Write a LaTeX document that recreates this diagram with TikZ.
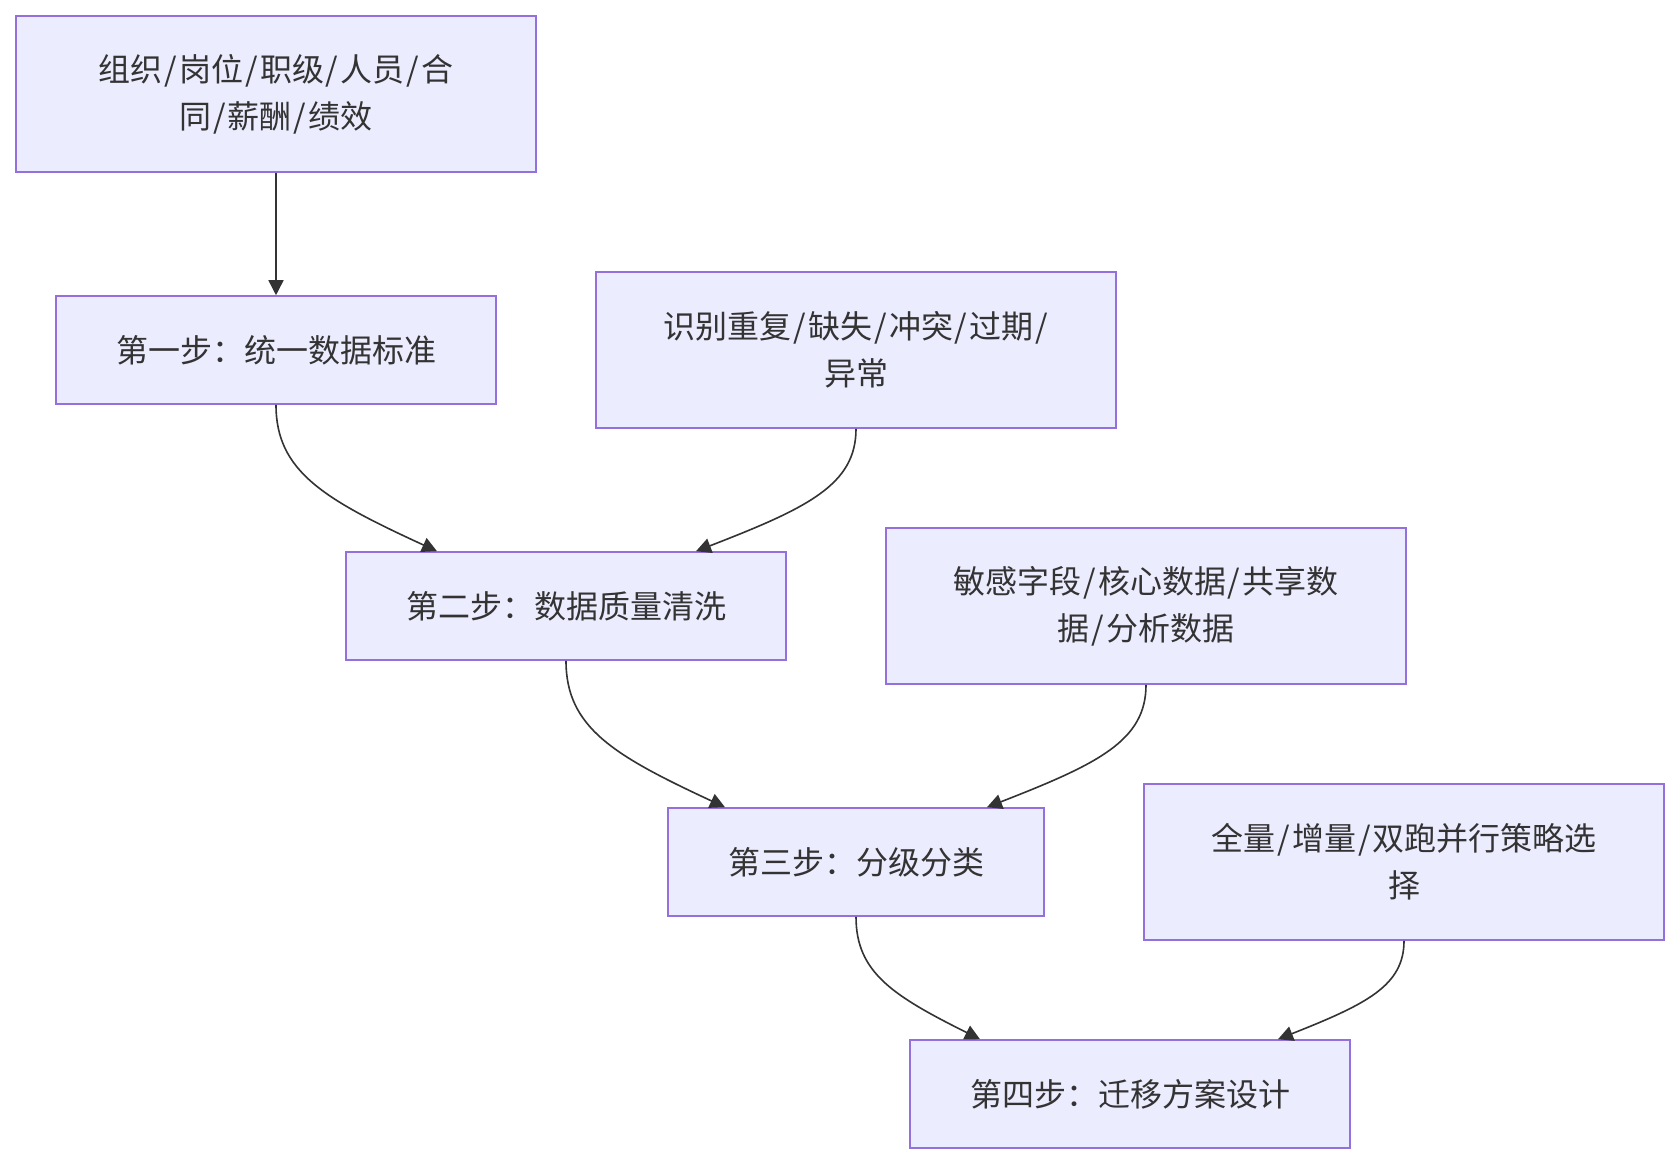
\documentclass[tikz,border=0pt]{standalone}
\usepackage{fontspec}
\newfontfamily\cjk{Noto Sans CJK SC}
\usetikzlibrary{arrows.meta,calc}
\definecolor{boxfill}{HTML}{ECECFF}
\definecolor{boxline}{HTML}{9370DB}
\definecolor{ink}{HTML}{333333}
\newcommand{\slsep}{\hspace{1pt}/\hspace{1pt}}
\begin{document}
\begin{tikzpicture}[x=0.5pt,y=-0.5pt,
  box/.style={draw=boxline, fill=boxfill, line width=0.8pt, text=ink,
    font=\cjk\fontsize{16pt}{23.5pt}\selectfont, align=center, inner sep=0pt},
  widebox/.style={box, minimum width=260pt, minimum height=78pt},
  stepbox/.style={box, minimum width=220pt, minimum height=54pt},
  edge/.style={draw=ink, line width=0.8pt, -{Triangle[length=7.5pt,width=7.5pt]}}]
\fill[white] (0,0) rectangle (1680,1164);
\useasboundingbox (0,0) rectangle (1680,1164);

\node[widebox] (A) at (276,94) {组织\slsep 岗位\slsep 职级\slsep 人员\slsep 合\\同\slsep 薪酬\slsep 绩效};
\node[stepbox] (B) at (276,350) {第一步：统一数据标准};
\node[widebox] (C) at (856,350) {识别重复\slsep 缺失\slsep 冲突\slsep 过期\slsep\\异常};
\node[stepbox] (D) at (566,606) {第二步：数据质量清洗};
\node[widebox] (E) at (1146,606) {敏感字段\slsep 核心数据\slsep 共享数\\据\slsep 分析数据};
\node[box, minimum width=188pt, minimum height=54pt] (F) at (856,862) {第三步：分级分类};
\node[widebox] (G) at (1404,862) {全量\slsep 增量\slsep 双跑并行策略选\\择};
\node[stepbox] (H) at (1130,1094) {第四步：迁移方案设计};

\draw[edge] (A.south) -- (B.north);
\draw[edge] (B.south) .. controls +(0,66.6) and +(-112.7,-51.8) .. ($(D.north)+(-129,0)$);
\draw[edge] (C.south) .. controls +(0,55.8) and +(112,-43.4) .. ($(D.north)+(130,0)$);
\draw[edge] (D.south) .. controls +(0,66.6) and +(-111.3,-51.8) .. ($(F.north)+(-131,0)$);
\draw[edge] (E.south) .. controls +(0,55.8) and +(111.3,-43.4) .. ($(F.north)+(131,0)$);
\draw[edge] (F.south) .. controls +(0,55.8) and +(-86.8,-43.4) .. ($(H.north)+(-150,0)$);
\draw[edge] (G.south) .. controls +(0,45) and +(88.2,-35) .. ($(H.north)+(148,0)$);
\end{tikzpicture}
\end{document}
